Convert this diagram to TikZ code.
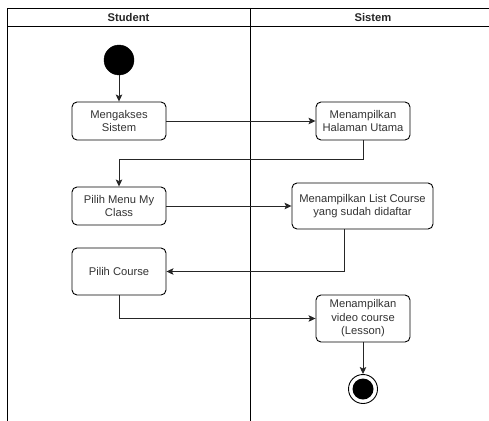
\documentclass[tikz,border=0pt]{standalone}
\usepackage{fontspec}
\setmainfont{Liberation Sans}
\usetikzlibrary{arrows.meta,calc}
\begin{document}
\begin{tikzpicture}[x=1pt,y=-1pt,
  act/.style={draw, line width=0.9pt, rounded corners=5pt, align=center,
    minimum width=94pt, minimum height=38pt, inner sep=2pt,
    font=\fontsize{11.2}{13.5}\selectfont, text=black!80},
  lane/.style={line width=0.9pt},
  flow/.style={line width=0.9pt, draw=black!85,
    -{Stealth[length=7pt,width=6.5pt,inset=1.5pt]}},
  hdr/.style={font=\fontsize{11.2}{13.5}\selectfont\bfseries, text=black!85}]
\useasboundingbox (0,0) rectangle (489,420);

% swimlane frame
\draw[lane] (7,8) rectangle (496,432);
\draw[lane] (7,26) -- (496,26);
\draw[lane] (250,8) -- (250,432);
\node[hdr] (hStudent) at (128.5,17.5) {Student};
\node[hdr] (hSistem) at (373,17.5) {Sistem};

% start node
\node[circle, fill=black, draw=black, minimum size=30pt, inner sep=0pt] (start) at (119,60) {};

% activities
\node[act] (m1) at (119,121) {Mengakses\\Sistem};
\node[act] (s1) at (363,121) {Menampilkan\\Halaman Utama};
\node[act] (m2) at (119,206) {Pilih Menu My\\Class};
\node[act, minimum width=141pt, minimum height=46pt] (s2) at (362.5,206) {Menampilkan List Course\\yang sudah didaftar};
\node[act, minimum height=47pt] (m3) at (119,271.5) {Pilih Course};
\node[act, minimum height=47pt] (s3) at (363,318.5) {Menampilkan\\video course\\(Lesson)};

% end node
\node[circle, draw=black, line width=0.9pt, fill=white, minimum size=29pt, inner sep=0pt] (finish) at (363,389) {};
\node[circle, fill=black, minimum size=21pt, inner sep=0pt] (finishIn) at (finish) {};

% control flow
\draw[flow] (start) -- (m1);
\draw[flow] (m1) -- (s1);
\draw[flow] (s1.south) -- ++(0,19) -| (m2.north);
\draw[flow] (m2) -- (s2);
\draw[flow] ([xshift=-18.5pt]s2.south) |- (m3.east);
\draw[flow] (m3.south) |- (s3.west);
\draw[flow] (s3.south) -- (finish.north);
\end{tikzpicture}
\end{document}
